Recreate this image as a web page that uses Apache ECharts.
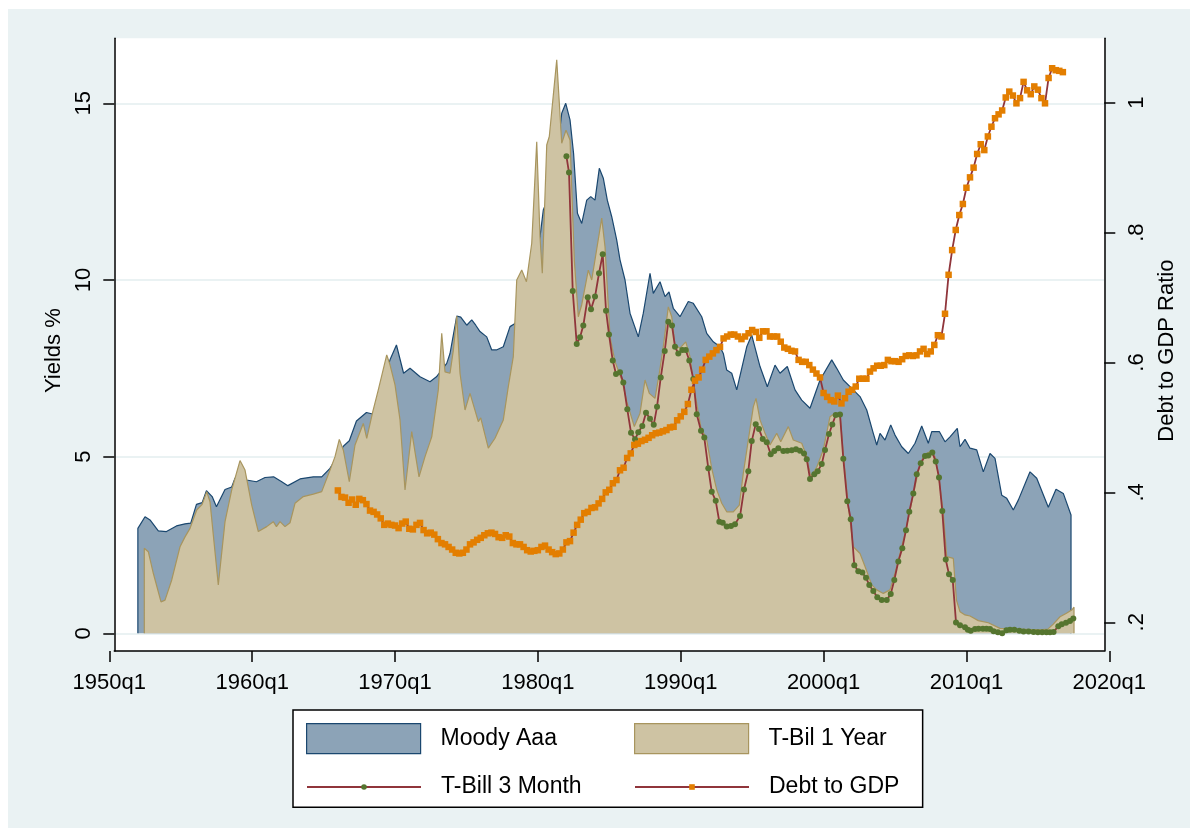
<!DOCTYPE html>
<html><head><meta charset="utf-8">
<script src="https://cdn.jsdelivr.net/npm/echarts@6/dist/echarts.min.js"></script>
<style>
html,body{margin:0;padding:0;background:#fff;}
#bg{position:absolute;left:8px;top:9px;width:1182px;height:819px;background:#EAF2F3;}
#chart{position:absolute;left:0;top:0;width:1198px;height:836px;}
</style></head><body>
<div id="bg"></div><div id="chart"></div>
<script>
// ---------------- data ----------------
const leftTicks = [0, 5, 10, 15];
const rightTicks = [0.2, 0.4, 0.6, 0.8, 1];
const xTickYears = [1950, 1960, 1970, 1980, 1990, 2000, 2010, 2020];

const moodyDates = [1952.00,1952.00,1952.50,1952.85,1953.43,1954.00,1954.70,1955.30,1955.70,1956.10,1956.50,1956.80,1957.20,1957.50,1958.10,1958.57,1958.80,1959.15,1959.60,1960.30,1960.90,1961.50,1962.07,1962.50,1963.35,1964.28,1964.87,1965.45,1965.80,1966.10,1966.40,1966.80,1967.30,1968.00,1968.50,1968.95,1969.65,1970.10,1970.60,1971.05,1971.75,1972.45,1972.90,1973.62,1973.85,1974.32,1974.60,1975.02,1975.37,1975.65,1975.95,1976.42,1976.77,1977.10,1977.58,1978.05,1978.40,1978.80,1979.30,1979.80,1980.15,1980.38,1980.70,1981.05,1981.35,1981.67,1981.95,1982.25,1982.50,1982.77,1983.07,1983.42,1983.70,1984.00,1984.30,1984.58,1984.86,1985.17,1985.52,1985.75,1986.10,1986.45,1987.03,1987.38,1987.85,1988.08,1988.55,1988.90,1989.18,1989.48,1989.95,1990.53,1990.88,1991.47,1991.82,1992.28,1992.75,1992.98,1993.22,1993.57,1993.92,1994.62,1994.97,1995.55,1996.06,1996.60,1996.95,1997.46,1998.00,1998.47,1999.05,1999.75,2000.57,2000.92,2001.38,2002.08,2002.55,2003.02,2003.48,2003.72,2003.95,2004.30,2004.70,2005.00,2005.47,2005.93,2006.40,2006.87,2007.33,2007.57,2008.10,2008.50,2008.85,2009.36,2009.55,2009.90,2010.25,2010.72,2011.18,2011.65,2012.00,2012.47,2012.82,2013.28,2013.63,2014.45,2014.92,2015.73,2016.27,2016.78,2017.32,2017.32];
const moodyYield = [0,2.97,3.30,3.21,2.90,2.88,3.04,3.10,3.12,3.65,3.70,4.04,3.87,3.58,4.07,4.14,4.39,4.45,4.34,4.29,4.41,4.43,4.29,4.18,4.37,4.43,4.43,4.67,4.90,5.15,5.30,5.45,6.01,6.25,6.20,6.84,7.74,8.16,7.36,7.50,7.26,7.12,7.26,7.64,7.92,8.98,8.95,8.72,8.87,8.72,8.54,8.39,8.02,8.02,8.11,8.68,8.77,9.10,9.40,10.40,11.22,11.98,12.30,13.00,13.60,14.72,15.00,14.53,13.58,11.89,11.60,12.26,12.36,12.26,13.16,12.88,12.26,11.79,11.13,10.57,10.00,9.06,8.39,9.06,10.19,9.62,9.95,9.53,9.66,9.20,8.96,9.39,9.34,8.96,8.49,8.25,8.11,7.92,7.45,7.36,6.89,8.11,8.44,7.55,6.98,7.59,7.36,7.55,6.89,6.60,6.37,7.17,7.74,7.50,7.17,6.89,6.70,6.32,5.66,5.33,5.66,5.47,5.90,5.61,5.28,5.09,5.38,5.87,5.38,5.71,5.71,5.42,5.56,5.80,5.28,5.49,5.24,5.19,4.57,5.09,4.95,3.91,3.82,3.49,3.77,4.57,4.39,3.57,4.08,3.96,3.35,0];

const bill1yDates = [1952.45,1952.45,1952.73,1953.08,1953.62,1953.90,1954.37,1954.95,1955.30,1955.65,1956.12,1956.50,1956.82,1957.05,1957.63,1958.10,1958.57,1959.15,1959.50,1959.97,1960.43,1961.02,1961.48,1961.70,1961.95,1962.30,1962.65,1963.00,1963.58,1964.28,1964.87,1965.45,1965.80,1966.10,1966.38,1966.80,1967.20,1967.78,1968.02,1968.44,1968.83,1969.42,1969.65,1970.00,1970.35,1970.70,1971.17,1971.68,1972.10,1972.57,1973.03,1973.27,1973.50,1973.85,1974.08,1974.32,1974.55,1974.90,1975.25,1975.83,1976.00,1976.53,1977.00,1977.58,1977.93,1978.28,1978.52,1978.87,1979.20,1979.57,1979.92,1980.15,1980.31,1980.62,1980.80,1981.32,1981.67,1981.97,1982.25,1982.55,1982.83,1983.07,1983.53,1983.77,1984.47,1984.70,1985.05,1985.40,1985.87,1986.26,1986.75,1987.15,1987.50,1987.80,1988.20,1988.50,1988.78,1989.13,1989.37,1989.60,1989.95,1990.35,1990.65,1991.00,1991.40,1991.82,1992.17,1992.52,1992.87,1993.22,1993.68,1994.10,1994.38,1994.73,1995.08,1995.27,1995.55,1995.90,1996.25,1996.72,1997.00,1997.53,1997.88,1998.47,1998.82,1999.10,1999.52,1999.98,2000.45,2000.80,2001.15,2001.40,2001.73,2002.08,2002.55,2002.90,2003.37,2003.72,2004.18,2004.65,2005.00,2005.35,2005.70,2006.05,2006.40,2006.75,2007.10,2007.45,2007.80,2008.03,2008.38,2008.62,2009.08,2009.30,2009.55,2009.90,2010.25,2010.83,2011.53,2012.35,2013.52,2015.15,2015.70,2016.08,2016.55,2017.00,2017.37,2017.53,2017.53];
const bill1yYield = [0,2.41,2.31,1.70,0.89,0.94,1.51,2.45,2.73,2.97,3.49,3.65,4.01,3.72,1.37,3.16,4.06,4.89,4.62,3.63,2.88,3.02,3.16,3.02,3.16,3.02,3.13,3.68,3.87,3.94,4.01,4.62,5.00,5.49,5.19,4.29,5.33,5.94,5.52,6.27,6.89,7.88,7.60,7.03,6.04,4.06,5.71,4.43,5.00,5.56,6.89,8.49,7.40,7.36,8.00,8.98,7.36,6.32,6.79,5.99,6.10,5.24,5.52,6.04,6.98,7.83,10.00,10.28,9.95,11.04,13.91,11.22,10.19,13.82,14.06,16.23,13.87,14.24,13.96,10.57,8.96,9.30,10.28,10.00,11.75,10.94,8.39,7.69,7.17,6.51,5.85,6.23,7.17,6.79,6.65,7.36,8.11,9.24,8.96,8.16,8.07,8.25,7.83,6.79,5.85,5.47,4.67,4.06,3.68,3.44,3.44,3.63,4.53,5.47,6.41,6.65,6.04,5.66,5.33,5.66,5.42,5.85,5.47,5.38,5.00,4.43,4.70,5.19,6.13,6.23,6.20,5.00,3.58,2.45,2.26,1.89,1.37,1.23,1.13,1.23,1.70,2.26,2.83,3.49,4.15,4.81,5.07,5.14,5.00,4.53,3.40,2.17,2.12,0.94,0.61,0.52,0.49,0.36,0.30,0.14,0.12,0.10,0.12,0.26,0.47,0.57,0.66,0.74,0];

const bill3mDates = [1982.00,1982.18,1982.44,1982.72,1982.95,1983.18,1983.49,1983.72,1984.00,1984.28,1984.54,1984.77,1984.98,1985.24,1985.47,1985.75,1985.98,1986.26,1986.52,1986.80,1987.03,1987.31,1987.57,1987.85,1988.11,1988.34,1988.60,1988.88,1989.13,1989.39,1989.60,1989.83,1990.11,1990.35,1990.60,1990.88,1991.12,1991.42,1991.65,1991.93,1992.17,1992.45,1992.70,1992.94,1993.22,1993.52,1993.80,1994.15,1994.43,1994.73,1994.97,1995.25,1995.48,1995.74,1996.02,1996.30,1996.55,1996.83,1997.18,1997.46,1997.77,1998.07,1998.35,1998.63,1998.82,1999.05,1999.35,1999.59,1999.87,2000.10,2000.38,2000.61,2000.85,2001.15,2001.38,2001.66,2001.90,2002.15,2002.43,2002.71,2002.97,2003.20,2003.48,2003.76,2004.07,2004.42,2004.70,2004.95,2005.23,2005.51,2005.77,2006.00,2006.28,2006.52,2006.80,2007.10,2007.33,2007.61,2007.85,2008.08,2008.31,2008.55,2008.78,2009.04,2009.27,2009.55,2009.90,2010.10,2010.30,2010.60,2010.85,2011.15,2011.40,2011.65,2011.90,2012.20,2012.50,2012.80,2013.05,2013.35,2013.70,2014.00,2014.35,2014.70,2015.00,2015.30,2015.60,2015.85,2016.10,2016.43,2016.67,2016.97,2017.25,2017.48];
const bill3mYield = [13.50,13.04,9.69,8.19,8.38,8.71,9.51,9.17,9.53,10.19,10.73,9.13,8.46,7.72,7.34,7.39,7.10,6.34,5.68,5.49,5.69,5.87,6.24,6.07,5.90,6.41,7.24,7.99,8.82,8.71,8.11,7.92,8.02,8.02,7.72,7.20,6.20,5.73,5.54,4.67,4.01,3.75,3.16,3.13,3.02,3.04,3.09,3.32,4.07,4.59,5.44,5.92,5.78,5.50,5.41,5.07,5.16,5.24,5.16,5.17,5.18,5.21,5.17,5.09,4.93,4.37,4.50,4.59,4.79,5.19,5.64,5.91,6.18,6.19,4.94,3.74,3.23,1.93,1.76,1.72,1.57,1.37,1.20,1.02,0.94,0.94,1.11,1.51,2.03,2.41,2.92,3.44,3.96,4.50,4.81,5.02,5.03,5.12,4.86,4.41,3.46,2.09,1.67,1.51,0.31,0.23,0.17,0.10,0.07,0.12,0.13,0.13,0.13,0.12,0.06,0.03,0.00,0.09,0.10,0.10,0.07,0.05,0.05,0.04,0.03,0.03,0.03,0.03,0.04,0.20,0.26,0.30,0.35,0.42];

const debtStartYear = 1966; // quarterly from 1966q1
const debtRatio = [
 0.403,0.393,0.392,0.384, 0.389,0.381,0.390,0.388, 0.382,0.372,0.370,0.366, 0.360,0.350,0.352,0.350,
 0.349,0.345,0.352,0.355, 0.344,0.343,0.350,0.353, 0.342,0.337,0.338,0.335, 0.328,0.322,0.320,0.316,
 0.312,0.307,0.306,0.307, 0.312,0.320,0.323,0.327, 0.330,0.334,0.337,0.338, 0.336,0.331,0.330,0.334,
 0.332,0.322,0.320,0.320, 0.316,0.311,0.309,0.310, 0.311,0.316,0.318,0.312, 0.308,0.305,0.306,0.312,
 0.323,0.325,0.338,0.350, 0.358,0.368,0.370,0.376, 0.377,0.383,0.390,0.400, 0.404,0.414,0.419,0.434,
 0.438,0.453,0.460,0.473, 0.475,0.479,0.481,0.484, 0.488,0.491,0.492,0.494, 0.496,0.500,0.501,0.511,
 0.517,0.524,0.536,0.558, 0.572,0.577,0.589,0.604, 0.609,0.614,0.619,0.624, 0.637,0.640,0.643,0.643,
 0.640,0.636,0.640,0.645, 0.650,0.647,0.638,0.648, 0.648,0.640,0.640,0.640, 0.632,0.623,0.621,0.618,
 0.617,0.604,0.601,0.601, 0.596,0.589,0.583,0.577, 0.553,0.547,0.542,0.540, 0.549,0.537,0.545,0.555,
 0.558,0.563,0.575,0.575, 0.575,0.586,0.591,0.595, 0.595,0.596,0.604,0.602, 0.602,0.601,0.605,0.610,
 0.611,0.610,0.611,0.617, 0.621,0.613,0.617,0.627, 0.642,0.640,0.675,0.735, 0.773,0.804,0.827,0.844,
 0.869,0.885,0.900,0.921, 0.936,0.927,0.948,0.963, 0.976,0.982,0.988,1.008, 1.017,1.011,0.999,1.007,
 1.032,1.019,1.013,1.025, 1.020,1.007,0.999,1.038, 1.053,1.050,1.049,1.047];
// -------------------------------------------------------------

const zip = (xs, ys) => xs.map((x, i) => [x, ys[i]]);
const debtDates = debtRatio.map((_, i) => debtStartYear + i * 0.25);

const FONT = '"Liberation Sans", Arial, sans-serif';
const NAVY = '#1A476F', BLUEFILL = '#8CA3B7';
const KHAKI = '#A8955E', KHAKIFILL = '#CEC3A3';
const MAROON = '#90353B', GREEN = '#55752F', ORANGE = '#E37E00';
const GRIDC = '#EAF2F3';

const chart = echarts.init(document.getElementById('chart'), null, {renderer: 'canvas'});
const axisLineStyle = {color: '#000', width: 1.5};

const legendText = {fontSize: 23, color: '#000', fontFamily: FONT, padding: [0, 0, 0, 15]};
const legendBase = {orient: 'horizontal', selectedMode: false, itemWidth: 114, padding: 0, textStyle: legendText, z: 6};

chart.setOption({
  animation: false,
  backgroundColor: 'transparent',
  textStyle: {fontFamily: FONT, color: '#000'},
  grid: [
    {left: 114.3, top: 38.3, width: 990, height: 612.7, show: true, backgroundColor: '#fff', borderWidth: 0, containLabel: false},
    {left: 109.3, top: 38.3, width: 1000, height: 612.7, show: false, containLabel: false}
  ],
  xAxis: [
    {gridIndex: 0, type: 'value', min: 1950.35, max: 2019.65,
     axisLine: {show: true, onZero: false, lineStyle: axisLineStyle},
     axisTick: {show: false}, axisLabel: {show: false}, splitLine: {show: false}},
    {gridIndex: 1, type: 'value', min: 1950, max: 2020, interval: 10,
     axisLine: {show: false, onZero: false},
     axisTick: {show: true, length: 11, lineStyle: axisLineStyle, customValues: xTickYears},
     axisLabel: {fontSize: 22, color: '#000', fontFamily: FONT, margin: 21, customValues: xTickYears,
                 formatter: v => v + 'q1'},
     splitLine: {show: false}}
  ],
  yAxis: [
    {gridIndex: 0, type: 'value', position: 'left', min: -0.5, max: 16.84,
     axisLine: {show: true, onZero: false, lineStyle: axisLineStyle},
     axisTick: {show: true, length: 11, lineStyle: axisLineStyle, customValues: leftTicks},
     axisLabel: {customValues: leftTicks, rotate: 90, fontSize: 22, color: '#000', fontFamily: FONT, margin: 19},
     splitLine: {show: true, lineStyle: {color: GRIDC, width: 2}},
     name: 'Yields %', nameLocation: 'middle', nameRotate: 90, nameGap: 47,
     nameTextStyle: {fontSize: 22, color: '#000', fontFamily: FONT, padding: [0, 12, 0, 0]}},
    {gridIndex: 0, type: 'value', position: 'right', min: 0.1558, max: 1.0991,
     axisLine: {show: true, onZero: false, lineStyle: axisLineStyle},
     axisTick: {show: true, length: 11, lineStyle: axisLineStyle, customValues: rightTicks},
     axisLabel: {customValues: rightTicks, rotate: 90, fontSize: 22, color: '#000', fontFamily: FONT, margin: 22,
                 formatter: v => (v > 0.999 ? '1' : '.' + Math.round(v * 10))},
     splitLine: {show: false},
     name: 'Debt to GDP Ratio', nameLocation: 'middle', nameRotate: 90, nameGap: 44,
     nameTextStyle: {fontSize: 22, color: '#000', fontFamily: FONT, padding: [0, 12, 0, 0]}},
    {gridIndex: 1, type: 'value', show: false, min: 0, max: 1}
  ],
  legend: [
    Object.assign({}, legendBase, {
      left: 293, top: 710, z: 4, itemHeight: 30,
      padding: [13, 365.7, 53, 13],
      backgroundColor: '#fff', borderColor: '#000', borderWidth: 1.5, borderRadius: 0,
      data: [{name: 'Moody Aaa', icon: 'rect', itemStyle: {color: BLUEFILL, borderColor: NAVY, borderWidth: 1.2}}]}),
    Object.assign({}, legendBase, {
      left: 634, top: 723, itemHeight: 30,
      data: [{name: 'T-Bil 1 Year', icon: 'rect', itemStyle: {color: KHAKIFILL, borderColor: KHAKI, borderWidth: 1.2}}]}),
    Object.assign({}, legendBase, {left: 306, top: 775.5, itemHeight: 7, data: ['T-Bill 3 Month']}),
    Object.assign({}, legendBase, {left: 634, top: 775.5, itemHeight: 7, data: ['Debt to GDP']})
  ],
  series: [
    {name: 'Moody Aaa', type: 'line', xAxisIndex: 0, yAxisIndex: 0, data: zip(moodyDates, moodyYield),
     symbol: 'none', silent: true, z: 1,
     lineStyle: {color: NAVY, width: 1.2}, itemStyle: {color: BLUEFILL},
     areaStyle: {color: BLUEFILL, opacity: 1, origin: 'auto'}},
    {name: 'T-Bil 1 Year', type: 'line', xAxisIndex: 0, yAxisIndex: 0, data: zip(bill1yDates, bill1yYield),
     symbol: 'none', silent: true, z: 2,
     lineStyle: {color: KHAKI, width: 1.2}, itemStyle: {color: KHAKIFILL},
     areaStyle: {color: KHAKIFILL, opacity: 1, origin: 'auto'}},
    {name: 'T-Bill 3 Month', type: 'line', xAxisIndex: 0, yAxisIndex: 0, data: zip(bill3mDates, bill3mYield),
     symbol: 'circle', symbolSize: 6, showAllSymbol: true, silent: true, z: 3,
     lineStyle: {color: MAROON, width: 1.8}, itemStyle: {color: GREEN}},
    {name: 'Debt to GDP', type: 'line', xAxisIndex: 0, yAxisIndex: 1, data: zip(debtDates, debtRatio),
     symbol: 'rect', symbolSize: 6.5, showAllSymbol: true, silent: true, z: 4,
     lineStyle: {color: MAROON, width: 1.8}, itemStyle: {color: ORANGE}}
  ]
});
</script>
</body></html>
